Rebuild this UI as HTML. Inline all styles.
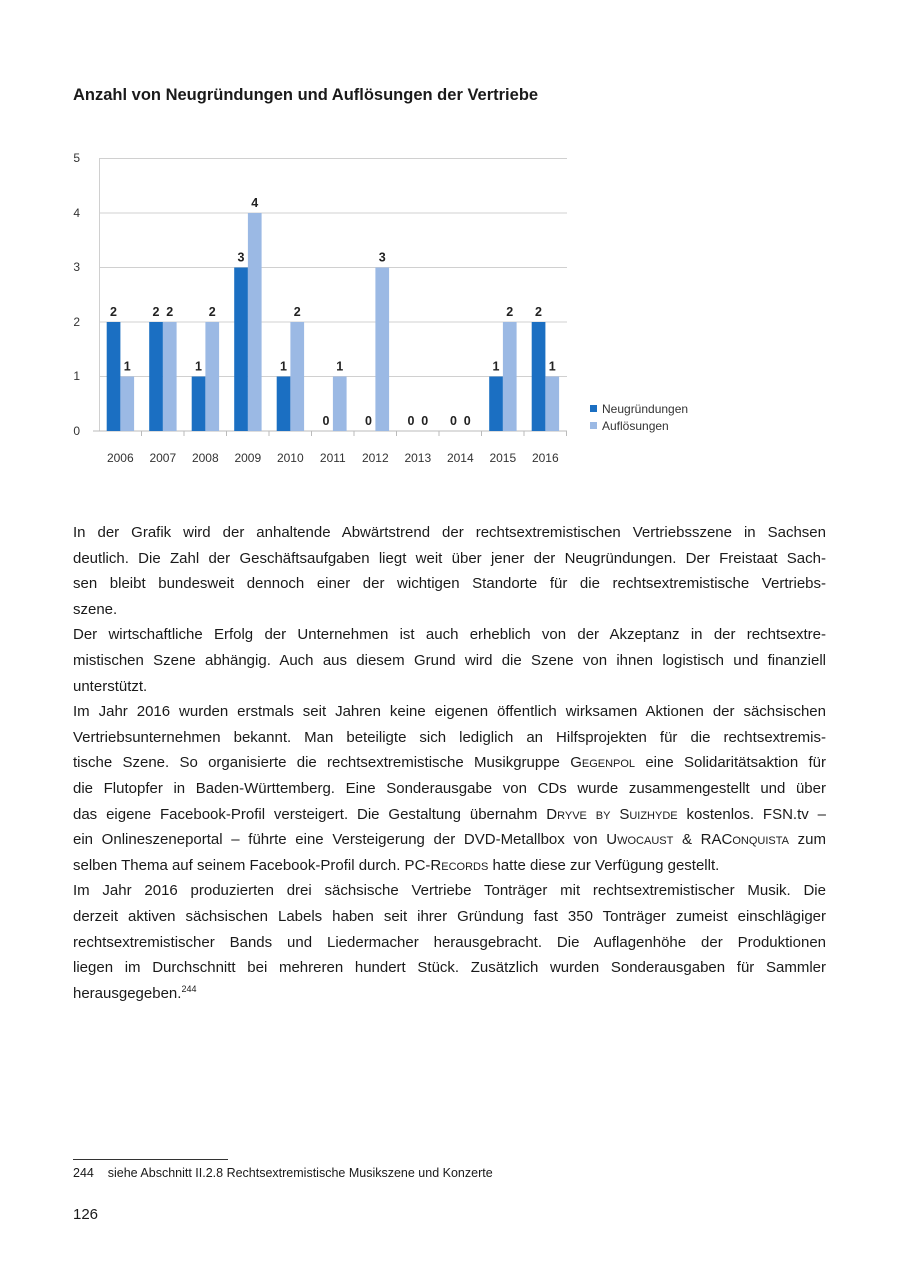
<!DOCTYPE html>
<html><head><meta charset="utf-8"><style>
body{margin:0;width:900px;height:1276px;background:#fff;position:relative;font-family:"Liberation Sans",sans-serif;color:#1a1a1a;overflow:hidden}
h1{position:absolute;left:73px;top:86px;margin:0;font-size:16.5px;font-weight:bold}
.txt{position:absolute;left:73px;top:520px;width:753px;font-size:15px;line-height:25.6px}
.txt div{text-align:justify;text-align-last:justify;white-space:nowrap;height:25.6px}
.txt div.l{text-align-last:left}
.sc{font-variant:small-caps}
.fn{position:absolute;left:73px;top:1166px;font-size:12.5px}
.line{position:absolute;left:73px;top:1159px;width:155px;border-top:1px solid #333}
.pg{position:absolute;left:73px;top:1206px;font-size:15px}
</style></head><body>
<h1>Anzahl von Neugründungen und Auflösungen der Vertriebe</h1>
<svg style="position:absolute;left:0;top:0" width="900" height="480" font-family="Liberation Sans, sans-serif">
<g stroke="#d0d0d0" stroke-width="1">
<line x1="99" x2="567" y1="158.5" y2="158.5"/><line x1="99" x2="567" y1="213" y2="213"/><line x1="99" x2="567" y1="267.5" y2="267.5"/><line x1="99" x2="567" y1="322" y2="322"/><line x1="99" x2="567" y1="376.5" y2="376.5"/>
<line x1="99.5" x2="99.5" y1="158" y2="431"/>
</g>
<line x1="93" x2="567" y1="431" y2="431" stroke="#bbb"/>
<g stroke="#bbb"><line x1="141.5" x2="141.5" y1="431" y2="436"/><line x1="184" x2="184" y1="431" y2="436"/><line x1="226.5" x2="226.5" y1="431" y2="436"/><line x1="269" x2="269" y1="431" y2="436"/><line x1="311.5" x2="311.5" y1="431" y2="436"/><line x1="354" x2="354" y1="431" y2="436"/><line x1="396.5" x2="396.5" y1="431" y2="436"/><line x1="439" x2="439" y1="431" y2="436"/><line x1="481.5" x2="481.5" y1="431" y2="436"/><line x1="524" x2="524" y1="431" y2="436"/><line x1="566.5" x2="566.5" y1="431" y2="436"/></g>
<g font-size="12" fill="#333" text-anchor="end">
<text x="80" y="162">5</text><text x="80" y="217">4</text><text x="80" y="271">3</text><text x="80" y="326">2</text><text x="80" y="380">1</text><text x="80" y="435">0</text></g>
<g font-size="12" fill="#333" text-anchor="middle">
<text x="120.3" y="462">2006</text><text x="162.8" y="462">2007</text><text x="205.3" y="462">2008</text><text x="247.8" y="462">2009</text><text x="290.3" y="462">2010</text><text x="332.8" y="462">2011</text><text x="375.3" y="462">2012</text><text x="417.8" y="462">2013</text><text x="460.3" y="462">2014</text><text x="502.8" y="462">2015</text><text x="545.3" y="462">2016</text></g>
<g fill="#1b6fc2">
<rect x="106.7" y="322" width="13.7" height="109"/><rect x="149.2" y="322" width="13.7" height="109"/><rect x="191.7" y="376.5" width="13.7" height="54.5"/><rect x="234.2" y="267.5" width="13.7" height="163.5"/><rect x="276.7" y="376.5" width="13.7" height="54.5"/><rect x="489.2" y="376.5" width="13.7" height="54.5"/><rect x="531.7" y="322" width="13.7" height="109"/></g>
<g fill="#9bb9e4">
<rect x="120.4" y="376.5" width="13.7" height="54.5"/><rect x="162.9" y="322" width="13.7" height="109"/><rect x="205.4" y="322" width="13.7" height="109"/><rect x="247.9" y="213" width="13.7" height="218"/><rect x="290.4" y="322" width="13.7" height="109"/><rect x="332.9" y="376.5" width="13.7" height="54.5"/><rect x="375.4" y="267.5" width="13.7" height="163.5"/><rect x="502.9" y="322" width="13.7" height="109"/><rect x="545.4" y="376.5" width="13.7" height="54.5"/></g>
<g font-size="12.5" font-weight="bold" fill="#222" text-anchor="middle">
<text x="113.5" y="316">2</text><text x="127.2" y="370.5">1</text>
<text x="156" y="316">2</text><text x="169.7" y="316">2</text>
<text x="198.5" y="370.5">1</text><text x="212.2" y="316">2</text>
<text x="241" y="261.5">3</text><text x="254.7" y="207">4</text>
<text x="283.5" y="370.5">1</text><text x="297.2" y="316">2</text>
<text x="326" y="425">0</text><text x="339.7" y="370.5">1</text>
<text x="368.5" y="425">0</text><text x="382.2" y="261.5">3</text>
<text x="411" y="425">0</text><text x="424.7" y="425">0</text>
<text x="453.5" y="425">0</text><text x="467.2" y="425">0</text>
<text x="496" y="370.5">1</text><text x="509.7" y="316">2</text>
<text x="538.5" y="316">2</text><text x="552.2" y="370.5">1</text></g>
<rect x="590" y="405" width="7" height="7" fill="#1b6fc2"/><text x="602" y="413" font-size="12" fill="#333">Neugründungen</text>
<rect x="590" y="422" width="7" height="7" fill="#9bb9e4"/><text x="602" y="430" font-size="12" fill="#333">Auflösungen</text>
</svg>
<div class="txt">
<div>In der Grafik wird der anhaltende Abwärtstrend der rechtsextremistischen Vertriebsszene in Sachsen</div>
<div>deutlich. Die Zahl der Geschäftsaufgaben liegt weit über jener der Neugründungen. Der Freistaat Sach-</div>
<div>sen bleibt bundesweit dennoch einer der wichtigen Standorte für die rechtsextremistische Vertriebs-</div>
<div class="l">szene.</div>
<div>Der wirtschaftliche Erfolg der Unternehmen ist auch erheblich von der Akzeptanz in der rechtsextre-</div>
<div>mistischen Szene abhängig. Auch aus diesem Grund wird die Szene von ihnen logistisch und finanziell</div>
<div class="l">unterstützt.</div>
<div>Im Jahr 2016 wurden erstmals seit Jahren keine eigenen öffentlich wirksamen Aktionen der sächsischen</div>
<div>Vertriebsunternehmen bekannt. Man beteiligte sich lediglich an Hilfsprojekten für die rechtsextremis-</div>
<div>tische Szene. So organisierte die rechtsextremistische Musikgruppe <span class="sc">Gegenpol</span> eine Solidaritätsaktion für</div>
<div>die Flutopfer in Baden-Württemberg. Eine Sonderausgabe von CDs wurde zusammengestellt und über</div>
<div>das eigene Facebook-Profil versteigert. Die Gestaltung übernahm <span class="sc">Dryve by Suizhyde</span> kostenlos. FSN.tv –</div>
<div>ein Onlineszeneportal – führte eine Versteigerung der DVD-Metallbox von <span class="sc">Uwocaust &amp; RAConquista</span> zum</div>
<div class="l">selben Thema auf seinem Facebook-Profil durch. PC-<span class="sc">Records</span> hatte diese zur Verfügung gestellt.</div>
<div>Im Jahr 2016 produzierten drei sächsische Vertriebe Tonträger mit rechtsextremistischer Musik. Die</div>
<div>derzeit aktiven sächsischen Labels haben seit ihrer Gründung fast 350 Tonträger zumeist einschlägiger</div>
<div>rechtsextremistischer Bands und Liedermacher herausgebracht. Die Auflagenhöhe der Produktionen</div>
<div>liegen im Durchschnitt bei mehreren hundert Stück. Zusätzlich wurden Sonderausgaben für Sammler</div>
<div class="l">herausgegeben.<span style="font-size:9px;position:relative;top:-6px;line-height:0">244</span></div>
</div>
<div class="line"></div>
<div class="fn">244&nbsp;&nbsp;&nbsp; siehe Abschnitt II.2.8 Rechtsextremistische Musikszene und Konzerte</div>
<div class="pg">126</div>
</body></html>
